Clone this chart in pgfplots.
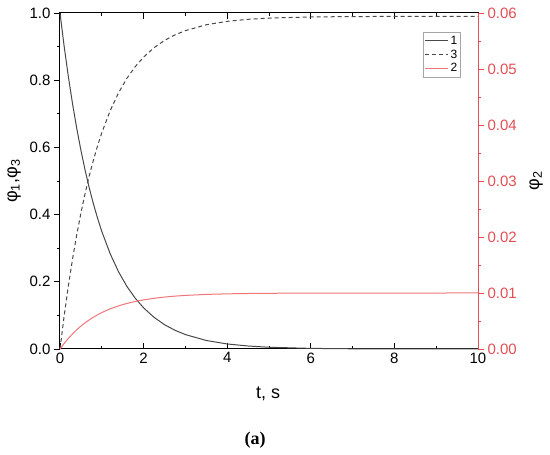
\documentclass[border=0pt]{standalone}
\usepackage{fontspec}
\setmainfont{Liberation Sans}
\newfontfamily\capfont{Liberation Serif}
\usepackage{pgfplots}
\usepackage{pgfplotstable}
\pgfplotsset{compat=1.18}
\definecolor{curvegray}{RGB}{72,72,72}
\definecolor{curvered}{RGB}{238,118,120}
\definecolor{axred}{RGB}{228,78,84}

% t, phi1, phi3, phi2
\pgfplotstableread{
t     p1      p3      p2
0     1.0000  0.0000  0.000000
0.1   0.9003  0.0987  0.000997
0.2   0.8106  0.1875  0.001894
0.3   0.7298  0.2675  0.002702
0.4   0.6570  0.3396  0.003430
0.5   0.5916  0.4043  0.004084
0.6   0.5326  0.4627  0.004674
0.7   0.4795  0.5153  0.005205
0.8   0.4317  0.5626  0.005683
0.9   0.3887  0.6052  0.006113
1.0   0.3499  0.6436  0.006501
1.2   0.2837  0.7091  0.007163
1.4   0.2299  0.7624  0.007701
1.6   0.1864  0.8055  0.008136
1.8   0.1511  0.8404  0.008489
2.0   0.1225  0.8687  0.008775
2.25  0.0942  0.8967  0.009058
2.5   0.0724  0.9183  0.009276
2.75  0.0557  0.9349  0.009443
3.0   0.0429  0.9475  0.009571
3.5   0.0253  0.9650  0.009747
4.0   0.0150  0.9752  0.009850
4.5   0.0089  0.9812  0.009911
5.0   0.0052  0.9849  0.009948
6.0   0.0018  0.9882  0.009982
7.0   0.0006  0.9894  0.009994
8.0   0.0002  0.9898  0.009998
10.0  0.0000  0.9900  0.010000
}\phidata

\begin{document}
\begin{tikzpicture}[x=1pt,y=1pt]
\path[use as bounding box] (0,0) rectangle (550,455);
\pgfplotsset{
  base/.style={
    at={(60pt,106pt)}, anchor=south west,
    width=418pt, height=336pt, scale only axis,
    xmin=0, xmax=10, clip=false,
    major tick length=6pt, minor tick length=3pt,
    tick label style={font=\fontsize{15}{17}\selectfont},
    /pgf/number format/assume math mode=true,
    label style={font=\fontsize{18}{20}\selectfont},
  }
}
% x axis, ticks pointing in
\begin{axis}[base,
  ymin=0, ymax=1,
  tick align=inside,
  xtick={0,2,4,6,8,10}, minor x tick num=1, xtick pos=both, xticklabel pos=bottom,
  ytick=\empty,
  axis line style={black, line width=1pt},
  xtick style={black, line width=0.9pt},
  xlabel={t, s},
  xlabel style={at={(axis description cs:0.498,-0.134)}, anchor=center},
]
\end{axis}
% left axis with phi1 and phi3
\begin{axis}[base,
  ymin=0, ymax=1,
  tick align=outside,
  xtick=\empty, axis line style={draw=none},
  ytick={0,0.2,0.4,0.6,0.8,1.0}, minor y tick num=1, ytick pos=left,
  ytick style={black, line width=0.9pt},
  yticklabel style={/pgf/number format/.cd, fixed, fixed zerofill, precision=1},
  ylabel={φ\textsubscript{1},φ\textsubscript{3}},
  ylabel style={at={(axis description cs:-0.11,0.5)}, anchor=center, rotate=0},
  legend style={at={(axis description cs:0.868,0.943)}, anchor=north west,
    draw=gray!70, line width=0.6pt, font=\fontsize{12}{13}\selectfont,
    inner sep=1.5pt, row sep=0pt, legend cell align=left},
  legend image code/.code={\draw[#1] (0pt,0pt) -- (23pt,0pt);},
]
\addplot[curvegray, line width=1pt] table[x=t, y=p1] {\phidata};
\addlegendentry{1}
\addplot[curvegray, line width=1pt, dash pattern=on 4pt off 3pt] table[x=t, y=p3] {\phidata};
\addlegendentry{3}
\addlegendimage{curvered, line width=1pt}
\addlegendentry{2}
\end{axis}
% right axis with phi2
\begin{axis}[base,
  ymin=0, ymax=0.06,
  tick align=outside,
  axis x line=none, axis y line*=right,
  axis line style={axred, line width=1pt},
  ytick={0,0.01,0.02,0.03,0.04,0.05,0.06}, minor y tick num=1,
  ytick style={axred, line width=0.9pt},
  yticklabel style={text=axred, /pgf/number format/.cd, fixed, fixed zerofill, precision=2},
  scaled y ticks=false,
  ylabel={φ\textsubscript{2}},
  ylabel style={at={(axis description cs:1.139,0.5)}, anchor=center, rotate=0},
]
\addplot[curvered, line width=1pt] table[x=t, y=p2] {\phidata};
\end{axis}
\node[font=\capfont\bfseries\fontsize{18}{20}\selectfont] at (255,15) {(a)};
\end{tikzpicture}
\end{document}
